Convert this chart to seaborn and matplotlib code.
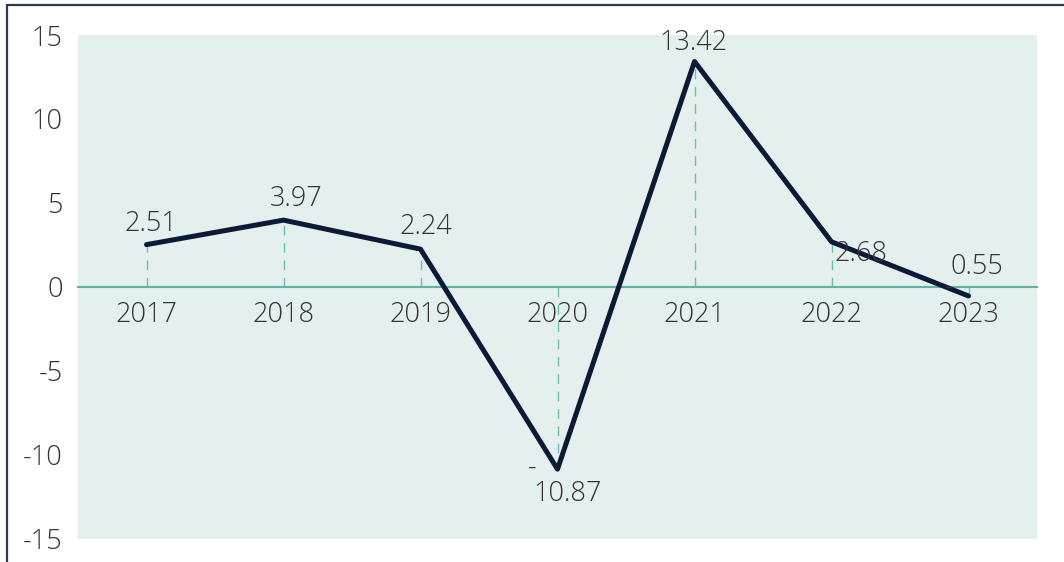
import matplotlib
matplotlib.use("Agg")
import matplotlib.pyplot as plt
import seaborn as sns
import pandas as pd
from matplotlib.lines import Line2D

years = ["2017", "2018", "2019", "2020", "2021", "2022", "2023"]
values = [2.51, 3.97, 2.24, -10.87, 13.42, 2.68, -0.55]
yticks = [-15, -10, -5, 0, 5, 10, 15]

sns.set_theme(style="white")
plt.rcParams['font.family'] = ['Open Sans', 'DejaVu Sans']

df = pd.DataFrame({"year": years, "value": values})

fig = plt.figure(figsize=(10.64, 5.62), dpi=100)
ax = fig.add_axes([78/1064, 1-538.5/562, (1037-78)/1064, (538.5-35)/562])
ax.set_facecolor("#e4f0ee")

xs = list(range(len(years)))
# dashed drop lines
ax.vlines(xs, 0, values, colors="#6cbfae", linestyles=(0, (7, 5.5)), linewidth=1.0, zorder=2)

sns.lineplot(data=df, x="year", y="value", ax=ax, color="#0b1a36", linewidth=3.6,
             sort=False, zorder=4)

ax.set_xlim(-0.5, len(years) - 0.5)
ax.set_ylim(-15, 15)
ax.set_yticks(yticks)
ax.set_yticklabels([str(t) for t in yticks])
ax.set_xlabel("")
ax.set_ylabel("")

for s in ["top", "right", "left"]:
    ax.spines[s].set_visible(False)
ax.spines["bottom"].set_position(("data", 0))
ax.spines["bottom"].set_color("#5fb3a3")
ax.spines["bottom"].set_linewidth(1.5)
ax.spines["bottom"].set_zorder(3)

TXT = "#333333"
FS = 19.5
ax.tick_params(axis="x", length=0, pad=10, labelsize=FS, labelcolor=TXT)
ax.tick_params(axis="y", length=0, pad=11, labelsize=FS, labelcolor=TXT)
for lab in ax.get_xticklabels() + ax.get_yticklabels():
    lab.set_fontweight("light")

# data labels (offsets in points)
offsets = [(3, 15), (9, 15), (4, 16), (0, 0), (-1, 13), (21, -9), (6, 21)]
txt_kw = dict(fontsize=FS, color=TXT, fontweight="light", ha="center", va="center",
              textcoords="offset points", zorder=5)
for i, v in enumerate(values):
    s = f"{abs(v):.2f}"
    if v >= 0:
        ax.annotate(s, (i, v), xytext=offsets[i], **txt_kw)
    elif i == 3:
        ax.annotate("-", (i, v), xytext=(-18, 1), **txt_kw)
        ax.annotate(s, (i, v), xytext=(7, -18), **txt_kw)
    else:
        ax.annotate(s, (i, v), xytext=offsets[i], **txt_kw)
        ax.annotate("-", (i, v), xytext=(-14, 6), **txt_kw)

# figure border lines (left and top)
border = "#2e3b55"
fig.add_artist(Line2D([7/1064, 7/1064], [0, 1-5/562], transform=fig.transFigure,
                      color=border, linewidth=1.6))
fig.add_artist(Line2D([7/1064, 1], [1-5/562, 1-5/562], transform=fig.transFigure,
                      color=border, linewidth=1.6))

fig.savefig("out.png", dpi=100)
